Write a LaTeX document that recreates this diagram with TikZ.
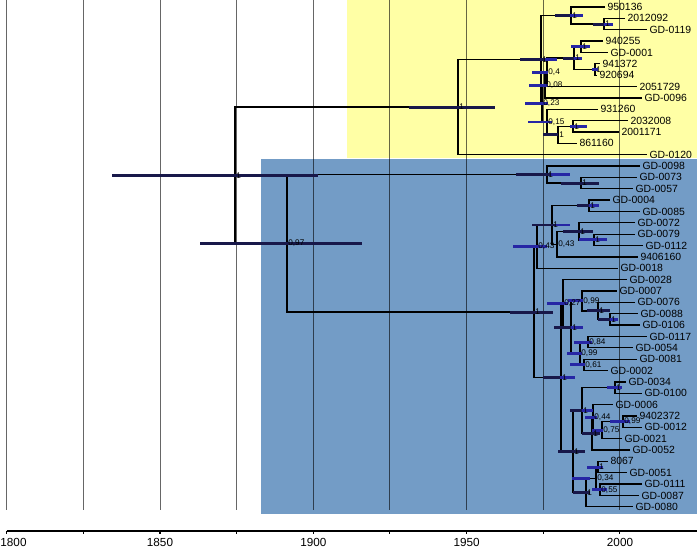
\documentclass[tikz,border=0pt]{standalone}
\usepackage{fontspec}
\setmainfont{Liberation Sans}
\definecolor{cladeY}{RGB}{255,255,165}
\definecolor{cladeB}{RGB}{115,156,198}
\definecolor{hpddark}{RGB}{24,24,74}
\definecolor{hpdblue}{RGB}{38,38,165}
% HPD bar of a node: \hpd[style]{node}{from x}{to x}
\newcommand{\hpd}[4][hpdk]{\draw[#1] (#2 -| #3,0) -- (#2 -| #4,0);}

\begin{document}
\begin{tikzpicture}[x=0.03cm, y=-0.03cm,
  branch/.style={line width=1.1pt, line join=miter},
  hpdk/.style={line width=2.5pt, draw=hpddark},
  hpdb/.style={line width=2.5pt, draw=hpdblue},
  gridline/.style={line width=0.8pt, draw=black, draw opacity=0.6},
  axisline/.style={line width=0.9pt},
  tiplab/.style={anchor=west, inner sep=2pt, font=\fontsize{8.9}{9}\selectfont},
  nlab/.style={anchor=west, inner sep=1pt, font=\fontsize{7}{8}\selectfont},
  yearlab/.style={anchor=base, inner sep=0pt, font=\fontsize{10}{11}\selectfont}]
\useasboundingbox (0,0) rectangle (697,551);

% clade backgrounds
\fill[cladeY] (347,0) rectangle (697,157.5);
\fill[cladeB] (261,158.5) rectangle (697,514);

% time grid
\foreach \k in {0,...,8}
  \draw[gridline] ({6.7+76.65*\k},0) -- ({6.7+76.65*\k},510);

% tips: name / tip x / row
\foreach \tname/\tx/\r in {950136/605/0, 2012092/625/1, GD-0119/647/2, 940255/603/3,
  GD-0001/608/4, 941372/600/5, 920694/597/6, 2051729/637/7, GD-0096/642/8,
  931260/598/9, 2032008/628/10, 2001171/619/11, 861160/577/12, GD-0120/647/13,
  GD-0098/640/14, GD-0073/637/15, GD-0057/633/16, GD-0004/610/17, GD-0085/640/18,
  GD-0072/635/19, GD-0079/635/20, GD-0112/643/21, 9406160/638/22, GD-0018/618/23,
  GD-0028/627/24, GD-0007/617/25, GD-0076/635/26, GD-0088/638/27, GD-0106/640/28,
  GD-0117/647/29, GD-0054/633/30, GD-0081/637/31, GD-0002/608/32, GD-0034/626/33,
  GD-0100/642/34, GD-0006/613/35, 9402372/637/36, GD-0012/642/37, GD-0021/622/38,
  GD-0052/630/39, 8067/608/40, GD-0051/627/41, GD-0111/642/42, GD-0087/639/43,
  GD-0080/633/44} {
  \coordinate (t\tname) at (\tx,{7+11.36*\r});
  \node[tiplab] at (t\tname) {\tname};
}

% internal nodes
\coordinate (R) at (235,175.22);
\coordinate (Y0) at (458,107.11);
\coordinate (A) at (541,59.54);
\coordinate (T) at (571,15.52);
\coordinate (T2) at (604,24.04);
\coordinate (B) at (542,103.56);
\coordinate (N008) at (545,85.10);
\coordinate (N04) at (547,72.32);
\coordinate (X) at (574,58.12);
\coordinate (X1) at (581,46.76);
\coordinate (X2) at (595,69.48);
\coordinate (N015) at (547,122.02);
\coordinate (Nb) at (558,134.80);
\coordinate (N12) at (573,126.28);
\coordinate (Bl) at (287,243.33);
\coordinate (C1) at (547,174.56);
\coordinate (C1b) at (581,183.08);
\coordinate (C2) at (534,312.09);
\coordinate (D) at (537,246.63);
\coordinate (D1) at (552,224.97);
\coordinate (D1a) at (589,205.80);
\coordinate (P043) at (557,244.14);
\coordinate (Q) at (579,231.36);
\coordinate (Q2) at (594,239.88);
\coordinate (E) at (561,377.54);
\coordinate (G5) at (563,303.43);
\coordinate (G4) at (571,327.21);
\coordinate (G3) at (582,300.94);
\coordinate (G2) at (598,310.88);
\coordinate (G1) at (610,319.40);
\coordinate (H3) at (580,353.48);
\coordinate (H1) at (588,342.12);
\coordinate (H2) at (584,364.84);
\coordinate (K3) at (573,451.64);
\coordinate (K2) at (582,410.64);
\coordinate (K1) at (615,387.56);
\coordinate (L4) at (592,433.71);
\coordinate (L3) at (593,417.38);
\coordinate (L2) at (602,430.16);
\coordinate (L1) at (623,421.64);
\coordinate (P4) at (586,492.64);
\coordinate (P2) at (596,478.44);
\coordinate (P1) at (598,467.08);
\coordinate (P3) at (600,489.80);

% branches, parent to child
\foreach \p/\c in {R/Y0, R/Bl, Y0/A, Y0/tGD-0120, A/T, A/B, T/t950136, T/T2,
  T2/t2012092, T2/tGD-0119, B/N008, B/N015, N008/N04, N008/tGD-0096,
  N04/X, N04/t2051729, X/X1, X/X2, X1/t940255, X1/tGD-0001, X2/t941372, X2/t920694,
  N015/t931260, N015/Nb, Nb/N12, Nb/t861160, N12/t2032008, N12/t2001171,
  Bl/C1, Bl/C2, C1/tGD-0098, C1/C1b, C1b/tGD-0073, C1b/tGD-0057,
  C2/D, C2/E, D/D1, D/tGD-0018, D1/D1a, D1/P043, D1a/tGD-0004, D1a/tGD-0085,
  P043/Q, P043/t9406160, Q/tGD-0072, Q/Q2, Q2/tGD-0079, Q2/tGD-0112,
  E/G5, E/K3, G5/tGD-0028, G5/G4, G4/G3, G4/H3, G3/tGD-0007, G3/G2,
  G2/tGD-0076, G2/G1, G1/tGD-0088, G1/tGD-0106, H3/H1, H3/H2,
  H1/tGD-0117, H1/tGD-0054, H2/tGD-0081, H2/tGD-0002,
  K3/K2, K3/P4, K2/K1, K2/L4, K1/tGD-0034, K1/tGD-0100, L4/L3, L4/tGD-0052,
  L3/tGD-0006, L3/L2, L2/L1, L2/tGD-0021, L1/t9402372, L1/tGD-0012,
  P4/P2, P4/tGD-0080, P2/P1, P2/P3, P1/t8067, P1/tGD-0051, P3/tGD-0111, P3/tGD-0087}
  \draw[branch] (\p) |- (\c);

% node height HPD bars
\foreach \nd/\a/\b in {R/112/318, Bl/200/362, Y0/409/495, A/520/545, T/555/570,
  T2/593/604, X/563/574, Nb/543/558, C1/516/550, C1b/561/599, D1/532/555,
  D1a/577/589, Q/563/593, C2/510/553, G2/587/610, G4/554/571, E/543/560,
  K2/570/582, L4/582/600, K3/558/585, P4/573/590, G1/598/610}
  {\hpd{\nd}{\a}{\b}}
\foreach \nd/\a/\b in {A/545/557, T/570/583, T2/604/613, X/574/582, X1/571/590,
  X2/592/598, N04/532/548, N008/529/548, B/525/548, N015/528/552, N12/570/587,
  C1/550/570, D1/555/570, D1a/589/599, D/513/547, Q2/579/607, G5/547/568,
  G3/568/583, H1/574/592, H3/567/582, H2/570/585, G4/571/583, E/560/575,
  K1/607/622, L1/610/630, L2/592/603, L3/585/597, K2/582/593, G1/610/618,
  P1/587/603, P3/592/607, P2/572/590}
  {\hpd[hpdb]{\nd}{\a}{\b}}

% posterior labels
\foreach \nd/\lb in {R/1, Bl/{0,97}, Y0/1, A/1, T/1, T2/1, X/1, X1/1, X2/1,
  N04/{0,4}, N008/{0,08}, B/{0,23}, N015/{0,15}, Nb/1, N12/1,
  C1/1, C1b/1, D/{0,43}, D1/1, D1a/1, P043/{0,43}, Q/1, Q2/1,
  C2/1, E/1, G5/{0,27}, G4/1, G3/{0,99}, G2/1, G1/1, H3/{0,99}, H1/{0,84}, H2/{0,61},
  K3/1, K2/1, K1/1, L4/1, L3/{0,44}, L2/{0,75}, L1/{0,99},
  P4/1, P2/{0,34}, P1/1, P3/{0,55}}
  \node[nlab] at (\nd) {\lb};

% time axis
\draw[axisline] (6.7,531) -- (697,531);
\foreach \k in {0,...,8}
  \draw[axisline] ({6.7+76.65*\k},531) -- ++(0,3);
\foreach \yr/\lx in {1800/13.5, 1850/160, 1900/313.3, 1950/466.6, 2000/620}
  \node[yearlab] at (\lx,546) {\yr};
\end{tikzpicture}
\end{document}
